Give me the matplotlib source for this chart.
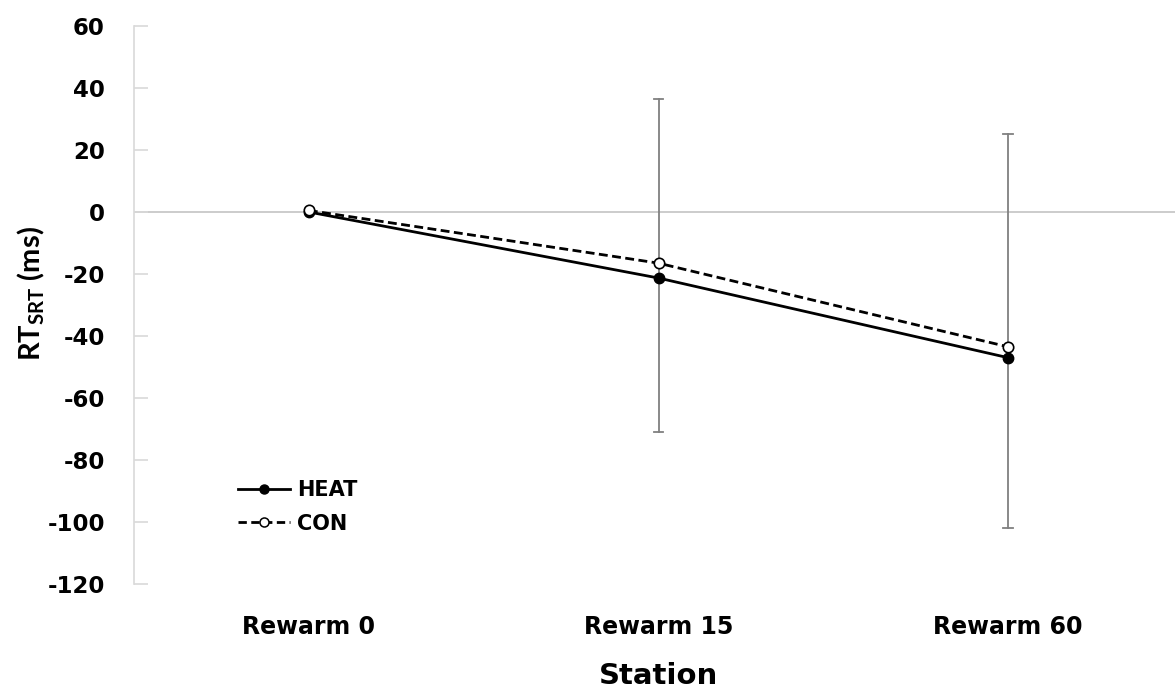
import matplotlib.pyplot as plt
from matplotlib.lines import Line2D

# datos
stations = ["Rewarm 0", "Rewarm 15", "Rewarm 60"]
heat = [0.0, -21.3, -47.0]
con = [0.5, -16.5, -43.5]
# extremos de las barras de error (solo en Rewarm 15 y 60)
err_idx = [1, 2]
err_high = [36.5, 25.0]
err_low = [-71.0, -102.0]

plt.rcParams['font.family'] = ['DejaVu Sans']
plt.rcParams['axes.unicode_minus'] = False
plt.rcParams['mathtext.fontset'] = 'custom'
plt.rcParams['mathtext.rm'] = 'Lato:bold'
plt.rcParams['mathtext.it'] = 'Lato:bold'
plt.rcParams['mathtext.bf'] = 'Lato:bold'

W, H = 1175, 691
fig = plt.figure(figsize=(W / 100, H / 100), dpi=100)
# ejes en pixeles: de x=134 a 1183, de y=26 a 584
ax = fig.add_axes([134 / W, 1 - 584 / H, (1183 - 134) / W, (584 - 26) / H])

x = list(range(len(stations)))

# barras de error
for i, lo, hi in zip(err_idx, err_low, err_high):
    ax.plot([x[i], x[i]], [lo, hi], color='#808080', lw=1.3, zorder=1)
    for yv in (lo, hi):
        ax.plot([x[i] - 0.014, x[i] + 0.014], [yv, yv], color='#808080', lw=1.3, zorder=1)

ax.axhline(0, color='#bfbfbf', lw=1.1, zorder=0)

ax.plot(x, heat, color='black', lw=2.0, marker='o', markersize=7.5,
        markerfacecolor='black', markeredgecolor='black', zorder=3)
ax.plot(x, con, color='black', lw=2.0, ls=(0, (3.2, 1.6)), marker='o', markersize=7.5,
        markerfacecolor='white', markeredgecolor='black', markeredgewidth=1.2, zorder=4)

ax.set_xlim(-0.5, 2.5)
ax.set_ylim(-120, 60)
ax.set_yticks(range(-120, 61, 20))
ax.set_xticks(x)
ax.set_xticklabels(stations)

for s in ['top', 'right', 'bottom']:
    ax.spines[s].set_visible(False)
ax.spines['left'].set_color('#d9d9d9')
ax.spines['left'].set_linewidth(1.2)

ax.tick_params(axis='y', direction='in', length=10, width=1.2, color='#d9d9d9',
               labelsize=16.5, pad=21)
ax.tick_params(axis='x', length=0, labelsize=17, pad=22)
for lab in ax.get_xticklabels() + ax.get_yticklabels():
    lab.set_fontweight('bold')

ax.set_xlabel("Station", fontsize=21, fontweight='bold', labelpad=17)
ax.set_ylabel(r"RT$_{\mathrm{SRT}}$ (ms)", fontsize=21, fontweight='bold',
              family=['Lato', 'DejaVu Sans'])
ax.yaxis.set_label_coords(-0.083, 0.52)

handles = [
    Line2D([], [], color='black', lw=2.0, marker='o', markersize=6.5,
           markerfacecolor='black'),
    Line2D([], [], color='black', lw=2.0, ls=(0, (3.0, 1.6)), marker='o', markersize=6.5,
           markerfacecolor='white', markeredgewidth=1.1),
]
leg = ax.legend(handles, ["HEAT", "CON"], loc='lower left', bbox_to_anchor=(0.0992, 0.09),
                frameon=False, handlelength=2.5, handletextpad=0.33, labelspacing=0.65,
                borderpad=0, borderaxespad=0,
                prop={'size': 15, 'weight': 'bold'})

fig.savefig("out.png", dpi=100)
